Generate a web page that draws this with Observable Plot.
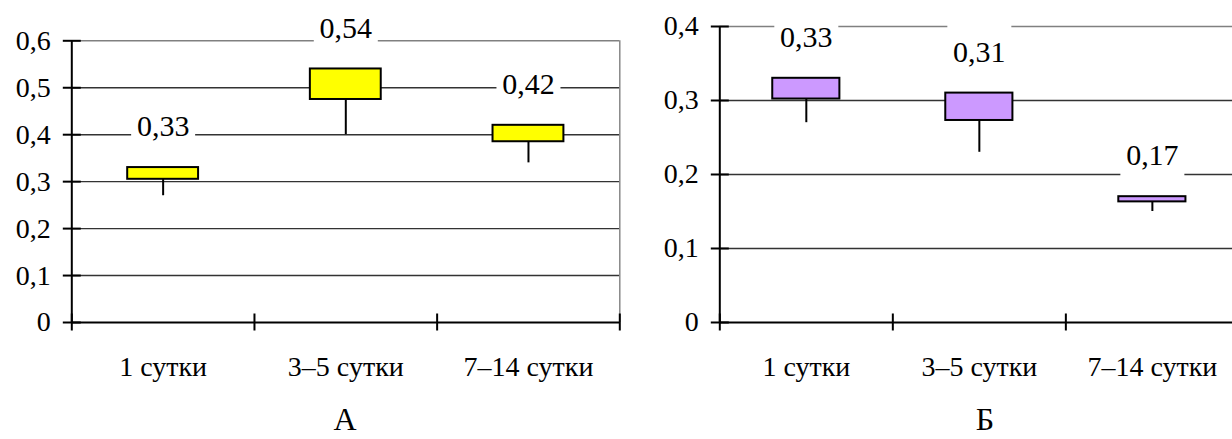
<!DOCTYPE html>
<html><head><meta charset="utf-8">
<script src="https://cdn.jsdelivr.net/npm/d3@7"></script>
<script src="https://cdn.jsdelivr.net/npm/@observablehq/plot@0.6"></script>
<style>
html,body{margin:0;padding:0;background:#fff;}
#wrap{position:relative;width:1232px;height:439px;overflow:hidden;background:#fff;font-family:"Liberation Serif",serif;}
#wrap svg{position:absolute;top:0;max-width:none !important;}
#wrap svg, #wrap svg text{font-family:"Liberation Serif",serif;}
.cap{position:absolute;top:403px;font-size:32px;line-height:32px;width:100px;text-align:center;color:#000;font-family:"Liberation Serif",serif;}
</style></head><body><div id="wrap"></div>
<script>
const categories = ["1 сутки", "3–5 сутки", "7–14 сутки"];
const aHigh = [0.33, 0.54, 0.42];
const aLow = [0.305, 0.475, 0.385];
const aMin = [0.27, 0.40, 0.34];
const aLabels = ["0,33", "0,54", "0,42"];
const bHigh = [0.33, 0.31, 0.17];
const bLow = [0.302, 0.273, 0.163];
const bMin = [0.27, 0.23, 0.15];
const bLabels = ["0,33", "0,31", "0,17"];
const aTicks = [0, 0.1, 0.2, 0.3, 0.4, 0.5, 0.6];
const aTickLabels = ["0", "0,1", "0,2", "0,3", "0,4", "0,5", "0,6"];
const bTicks = [0, 0.1, 0.2, 0.3, 0.4];
const bTickLabels = ["0", "0,1", "0,2", "0,3", "0,4"];
const panelTitles = ["А", "Б"];

const FONT = "Liberation Serif";
const halfBox = 0.194;
const vTick = {draw(ctx) { ctx.moveTo(0, -9); ctx.lineTo(0, 8); }};
const hTick = {draw(ctx) { ctx.moveTo(-9, 0); ctx.lineTo(9, 0); }};
const mask = {draw(ctx) { ctx.rect(-32, -27, 64, 54); }};

function panel({high, low, min, labels, ticks, tickLabels, fill, width, marginLeft, marginRight, marginTop}) {
  const rows = categories.map((c, i) => ({c, x: i + 0.5, high: high[i], low: low[i], min: min[i], label: labels[i]}));
  const yMax = ticks[ticks.length - 1];
  const grid = ticks.slice(1, -1);
  const bounds = d3.range(categories.length + 1);
  return Plot.plot({
    width, height: 400, marginLeft, marginRight, marginTop, marginBottom: 78,
    style: {background: "white", color: "black", overflow: "visible"},
    x: {domain: [0, categories.length]},
    y: {domain: [0, yMax]},
    marks: [
      Plot.ruleY(grid, {stroke: "#333", strokeWidth: 1.4}),
      Plot.ruleY([yMax], {stroke: "#808080", strokeWidth: 1.4}),
      Plot.ruleX([categories.length], {stroke: "#808080", strokeWidth: 1.4}),
      Plot.dot(rows, {x: "x", y: "high", dy: -41, symbol: mask, fill: "white", stroke: "none"}),
      Plot.ruleX(rows, {x: "x", y1: "low", y2: "min", stroke: "black", strokeWidth: 2}),
      Plot.rect(rows, {x1: d => d.x - halfBox, x2: d => d.x + halfBox, y1: "low", y2: "high", fill, stroke: "black", strokeWidth: 2}),
      Plot.text(rows, {x: "x", y: "high", text: "label", dy: -41, fontSize: 30, lineAnchor: "middle", fill: "black", fontFamily: FONT}),
      Plot.ruleX([0], {stroke: "black", strokeWidth: 2}),
      Plot.ruleY([0], {stroke: "black", strokeWidth: 2}),
      Plot.dot(bounds, {x: d => d, y: () => 0, symbol: vTick, stroke: "black", strokeWidth: 2, fill: "none"}),
      Plot.dot(ticks, {x: () => 0, y: d => d, symbol: hTick, stroke: "black", strokeWidth: 2, fill: "none"}),
      Plot.axisY(ticks, {tickSize: 0, tickPadding: 21, tickFormat: d => tickLabels[ticks.indexOf(d)], fontSize: 28, fontFamily: FONT, label: null}),
      Plot.axisX(rows.map(r => r.x), {tickSize: 0, tickPadding: 34, tickFormat: d => categories[Math.floor(d)], fontSize: 28, fontFamily: FONT, label: null})
    ]
  });
}

const wrap = document.getElementById("wrap");
const left = panel({high: aHigh, low: aLow, min: aMin, labels: aLabels, ticks: aTicks, tickLabels: aTickLabels,
  fill: "#FFFF00", width: 640, marginLeft: 71.3, marginRight: 20.7, marginTop: 40.3});
left.style.left = "0px";
wrap.appendChild(left);
const right = panel({high: bHigh, low: bLow, min: bMin, labels: bLabels, ticks: bTicks, tickLabels: bTickLabels,
  fill: "#CC99FF", width: 598.4, marginLeft: 79.3, marginRight: 0, marginTop: 26});
right.style.left = "640px";
wrap.appendChild(right);

[[panelTitles[0], 345], [panelTitles[1], 985]].forEach(([t, cx]) => {
  const d = document.createElement("div");
  d.className = "cap";
  d.textContent = t;
  d.style.left = (cx - 50) + "px";
  wrap.appendChild(d);
});
</script>
</body></html>
